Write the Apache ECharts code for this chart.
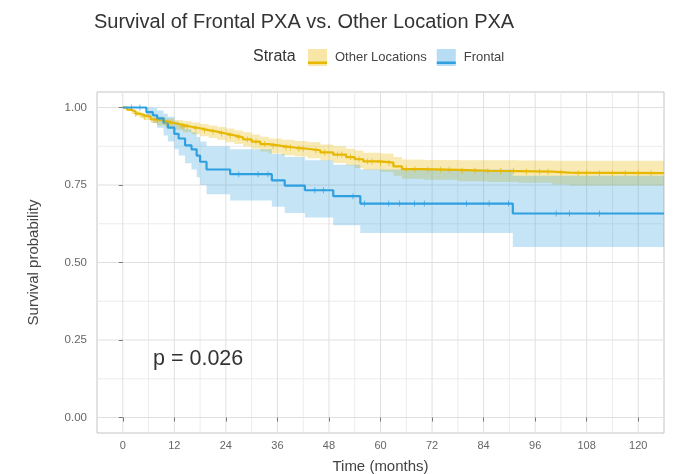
<!DOCTYPE html>
<html><head><meta charset="utf-8">
<script src="https://cdn.jsdelivr.net/npm/echarts@6.0.0/dist/echarts.min.js"></script>
<style>html,body{margin:0;padding:0;background:#fff}#c{width:678px;height:474px}</style>
</head><body><div id="c"></div>
<script>
// ---- data ----
const chartTitle = 'Survival of Frontal PXA vs. Other Location PXA';
const legendTitle = 'Strata';
const groupNames = ['Other Locations', 'Frontal'];
const pValueText = 'p = 0.026';
const xTickLabels = [0, 12, 24, 36, 48, 60, 72, 84, 96, 108, 120];
const yTickLabels = [0, 0.25, 0.5, 0.75, 1.0];

// Other Locations: KM step times, survival, CI bounds
const otherTime  = [0,1,2,3,4,5,6.5,8,10,12,14,16,18,20,22,24,26,28,30,32,34,37,40,43,46,49,52,54,56,60,63,65,70,78,85,92,100,104,126];
const otherSurv  = [1.000,0.993,0.987,0.980,0.975,0.970,0.962,0.956,0.950,0.944,0.938,0.933,0.927,0.922,0.916,0.910,0.904,0.897,0.890,0.882,0.876,0.871,0.867,0.862,0.855,0.848,0.840,0.833,0.826,0.822,0.810,0.801,0.799,0.796,0.795,0.793,0.790,0.788,0.788];
const otherLower = [1.000,0.989,0.981,0.972,0.966,0.960,0.950,0.942,0.935,0.928,0.920,0.914,0.907,0.902,0.895,0.888,0.882,0.874,0.867,0.858,0.852,0.846,0.842,0.836,0.829,0.821,0.813,0.805,0.798,0.792,0.780,0.770,0.767,0.762,0.760,0.757,0.752,0.748,0.748];
const otherUpper = [1.000,0.997,0.993,0.988,0.984,0.980,0.974,0.970,0.965,0.960,0.956,0.952,0.947,0.942,0.937,0.932,0.926,0.920,0.913,0.906,0.900,0.896,0.892,0.888,0.881,0.875,0.867,0.861,0.854,0.852,0.840,0.832,0.831,0.830,0.830,0.829,0.828,0.828,0.828];
const otherCensor = [3,5,8,10,11,14,15,17,19,21,23,25,27,29,31,33,35,38,39,41,42,45,47,50,51,53,55,57,58,60,62,66,68,71,74,76,79,82,85,88,91,94,97,99,102,106,108,111,114,117,120,123];

// Frontal
const frontTime  = [0,5.5,7,8,9.5,10.5,12,13,14.5,16,17.2,18,19.5,25,34.7,37.7,42.4,49,55.3,90.8,126];
const frontSurv  = [1.000,0.985,0.975,0.965,0.950,0.935,0.915,0.900,0.878,0.865,0.845,0.825,0.800,0.785,0.765,0.748,0.733,0.714,0.690,0.658,0.658];
const frontLower = [1.000,0.970,0.950,0.935,0.910,0.890,0.865,0.845,0.820,0.800,0.775,0.750,0.720,0.700,0.680,0.660,0.645,0.620,0.595,0.550,0.550];
const frontUpper = [1.000,1.000,0.998,0.990,0.980,0.970,0.955,0.945,0.930,0.920,0.905,0.890,0.875,0.865,0.850,0.840,0.830,0.815,0.800,0.780,0.780];
const frontCensor = [2,4,27,31.5,33.8,44.7,46.7,53.6,56.3,61.9,64.4,67.9,70.2,80,85.3,89.8,100.9,104,111];

// ---- styling ----
const FONT = 'Liberation Sans, Arial, sans-serif';
const ORANGE = '#E7B800', BLUE = '#2E9FDF';
const ORANGE_FILL = 'rgba(231,184,0,0.30)', BLUE_FILL = 'rgba(46,159,223,0.28)';
const MAJOR = '#e0e0e0', MINOR = '#ececec';
const PLUS = 'path://M-1,-0.14H1V0.14H-1Z M-0.14,-1H0.14V1H-0.14Z';

const pairs = (xs, ys) => xs.map((x, i) => [x, ys[i]]);
const stepAt = (ts, ss, t) => { let v = ss[0]; for (let i = 0; i < ts.length; i++) { if (ts[i] <= t) v = ss[i]; } return v; };
const censorPts = (cs, ts, ss) => cs.map(c => [c, stepAt(ts, ss, c)]);
const midpoints = a => a.slice(1).map((v, i) => (v + a[i]) / 2);

// Panel grid lines (major at tick labels, minor halfway), positioned via the axes
function gridLineSeries() {
  const xMinor = midpoints(xTickLabels), yMinor = midpoints(yTickLabels);
  return {
    type: 'custom', silent: true, z: 0, clip: true, data: [[0, 0]],
    renderItem: (params, api) => {
      const cs = params.coordSys, kids = [];
      const vline = (v, c) => { const px = api.coord([v, 0])[0];
        kids.push({ type: 'line', shape: { x1: px, y1: cs.y, x2: px, y2: cs.y + cs.height }, style: { stroke: c, lineWidth: 1 } }); };
      const hline = (v, c) => { const py = api.coord([0, v])[1];
        kids.push({ type: 'line', shape: { x1: cs.x, y1: py, x2: cs.x + cs.width, y2: py }, style: { stroke: c, lineWidth: 1 } }); };
      xMinor.forEach(v => vline(v, MINOR)); yMinor.forEach(v => hline(v, MINOR));
      xTickLabels.forEach(v => vline(v, MAJOR)); yTickLabels.forEach(v => hline(v, MAJOR));
      return { type: 'group', children: kids };
    }
  };
}

// Confidence band: one step-shaped polygon, positioned through the axes via api.coord
function bandSeries(time, lo, hi, fill) {
  return {
    type: 'custom', silent: true, z: 1, clip: true,
    data: time.map((t, i) => [t, lo[i], hi[i]]),
    encode: { x: 0, y: [1, 2] },
    renderItem: (params, api) => {
      if (params.dataIndex !== 0) return null;
      const top = [], bot = [];
      for (let i = 0; i < time.length; i++) {
        if (i > 0) { top.push(api.coord([time[i], hi[i - 1]])); bot.push(api.coord([time[i], lo[i - 1]])); }
        top.push(api.coord([time[i], hi[i]])); bot.push(api.coord([time[i], lo[i]]));
      }
      const pts = top.concat(bot.reverse());
      return { type: 'polygon', shape: { points: pts }, style: { fill: fill, stroke: null } };
    }
  };
}

const chart = echarts.init(document.getElementById('c'), null, { renderer: 'canvas' });
const legendBase = { left: 308, itemWidth: 19, itemGap: 10, padding: 0, selectedMode: false };

chart.setOption({
  animation: false,
  backgroundColor: '#fff',
  textStyle: { fontFamily: FONT },
  title: [
    { text: chartTitle, left: 94, top: 12, padding: 0, textStyle: { fontSize: 20, fontWeight: 'normal', color: '#333', fontFamily: FONT } },
    { text: legendTitle, left: 253, top: 49, padding: 0, textStyle: { fontSize: 16, fontWeight: 'normal', color: '#333', fontFamily: FONT } },
    { text: pValueText, left: 153, top: 348, padding: 0, textStyle: { fontSize: 21.5, fontWeight: 'normal', color: '#333', fontFamily: FONT } }
  ],
  legend: [
    Object.assign({}, legendBase, { top: 49, icon: 'rect', itemHeight: 17,
      textStyle: { fontSize: 13, fontFamily: FONT, color: '#444', padding: [0, 0, 0, 3] },
      data: [{ name: groupNames[0], itemStyle: { color: 'rgba(231,184,0,0.35)' } },
             { name: groupNames[1], itemStyle: { color: 'rgba(46,159,223,0.35)' } }] }),
    Object.assign({}, legendBase, { top: 56.25, icon: 'rect', itemHeight: 2.5,
      textStyle: { fontSize: 13, fontFamily: FONT, color: 'rgba(0,0,0,0)', padding: [0, 0, 0, 3] },
      data: [{ name: groupNames[0], itemStyle: { color: ORANGE } }, { name: groupNames[1], itemStyle: { color: BLUE } }] })
  ],
  grid: { left: 97, right: 14, top: 92, bottom: 41, outerBoundsMode: 'none', containLabel: false,
    show: true, borderColor: '#c4c4c4', borderWidth: 1, backgroundColor: '#fff' },
  xAxis: {
    type: 'value', min: -6, max: 126, interval: 6,
    name: 'Time (months)', nameLocation: 'middle', nameGap: 26,
    nameTextStyle: { fontSize: 15, color: '#444', fontFamily: FONT },
    axisLine: { show: false },
    axisTick: { show: true, customValues: xTickLabels, length: 4, lineStyle: { color: '#777' } },
    axisLabel: { customValues: xTickLabels, fontSize: 11, color: '#666', margin: 7, fontFamily: FONT },
    splitLine: { show: false }
  },
  yAxis: {
    type: 'value', min: -0.05, max: 1.05, interval: 0.025,
    name: 'Survival probability', nameLocation: 'middle', nameGap: 56,
    nameTextStyle: { fontSize: 15, color: '#444', fontFamily: FONT },
    axisLine: { show: false },
    axisTick: { show: true, customValues: yTickLabels, length: 4, lineStyle: { color: '#777' } },
    axisLabel: { customValues: yTickLabels, fontSize: 11.5, color: '#666', margin: 10, fontFamily: FONT,
      formatter: v => Number(v).toFixed(2) },
    splitLine: { show: false }
  },
  series: [
    gridLineSeries(),
    bandSeries(otherTime, otherLower, otherUpper, ORANGE_FILL),
    bandSeries(frontTime, frontLower, frontUpper, BLUE_FILL),
    { type: 'line', name: groupNames[0], step: 'end', data: pairs(otherTime, otherSurv), symbol: 'none',
      color: ORANGE, lineStyle: { color: ORANGE, width: 2.2 }, z: 3 },
    { type: 'line', name: groupNames[1], step: 'end', data: pairs(frontTime, frontSurv), symbol: 'none',
      color: BLUE, lineStyle: { color: BLUE, width: 2.2 }, z: 4 },
    { type: 'scatter', data: censorPts(otherCensor, otherTime, otherSurv), symbol: PLUS, symbolSize: 6,
      itemStyle: { color: ORANGE }, z: 5, silent: true },
    { type: 'scatter', data: censorPts(frontCensor, frontTime, frontSurv), symbol: PLUS, symbolSize: 6,
      itemStyle: { color: BLUE }, z: 6, silent: true }
  ]
});
</script>
</body></html>
